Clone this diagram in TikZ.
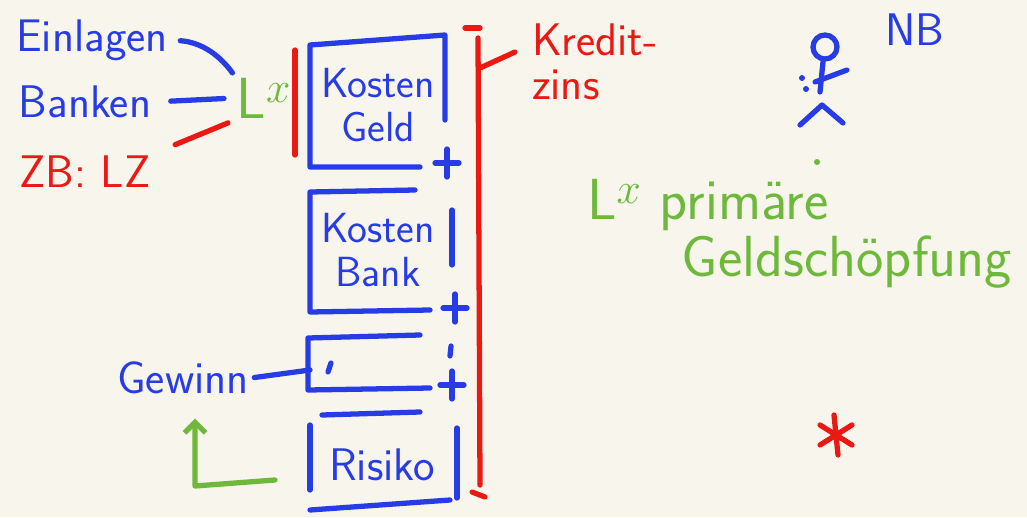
\documentclass[tikz,border=0pt]{standalone}
\usepackage{tikz}
\usetikzlibrary{positioning,arrows.meta}

\definecolor{penblue}{RGB}{40,60,230}
\definecolor{penred}{RGB}{235,25,20}
\definecolor{pengreen}{RGB}{110,185,60}
\definecolor{paper}{RGB}{248,245,236}

\tikzset{
  stroke/.style={line width=3pt, line cap=round, line join=round},
  word/.style={font=\sffamily\fontsize{26}{25}\selectfont, inner sep=1pt},
  boxword/.style={font=\sffamily\fontsize{24}{25}\selectfont, inner sep=1pt},
  bigword/.style={font=\sffamily\fontsize{33}{34}\selectfont, inner sep=1pt},
}

\begin{document}
\begin{tikzpicture}[x=0.02cm,y=-0.02cm]
\fill[paper] (0,0) rectangle (1027,517);
\useasboundingbox (0,0) rectangle (1027,517);

% sources of money
\node[word, penblue] (einlagen) at (92,40) {Einlagen};
\node[word, penblue] (banken) at (85,102) {Banken};
\node[word, penred] (zb) at (85,172) {ZB: LZ};
\node[bigword, pengreen] (lx) at (264,98) {L$^x$};
\draw[stroke, penblue, shorten <=6pt, shorten >=2pt] (einlagen.east) to[bend left=25] (lx.north west);
\draw[stroke, penblue, shorten <=10pt, shorten >=6pt] (banken.east) -- (lx.west);
\draw[stroke, penred, shorten <=14pt, shorten >=4pt] (zb.north east) -- (lx.south west);
\draw[stroke, penred] (295,50) -- (295,155);

% boxes
\draw[stroke, penblue] (420,167) -- (310,167) -- (310,45) -- (445,35) -- (445,120);
\node[boxword, penblue, align=center] (kgeld) at (378,105) {Kosten\\Geld};
\draw[stroke, penblue] (415,190) -- (310,192) -- (310,312) -- (430,310);
\draw[stroke, penblue] (452,210) -- (452,265);
\node[boxword, penblue, align=center] (kbank) at (378,250) {Kosten\\Bank};
\draw[stroke, penblue] (420,335) -- (308,338) -- (308,390) -- (430,388);
\draw[stroke, penblue] (331,363) -- (328,372);
\draw[stroke, penblue] (420,412) -- (322,415);
\draw[stroke, penblue] (310,425) -- (310,490);
\draw[stroke, penblue] (457,428) -- (457,498);
\draw[stroke, penblue] (310,510) -- (450,500);
\node[word, penblue] (risiko) at (382,465) {Risiko};

% signs
\foreach \sx/\sy in {447/163, 455/308, 452/385}
  \draw[stroke, penblue] (\sx-12,\sy) -- (\sx+12,\sy) (\sx,\sy-14) -- (\sx,\sy+14);
\draw[stroke, penblue] (451,346) -- (450,356);

% profit
\node[word, penblue] (gewinn) at (183,378) {Gewinn};
\coordinate (g3) at (310,370);
\draw[stroke, penblue, shorten <=2pt] (gewinn.east) -- (g3);
\coordinate (rk) at (275,480);
\draw[stroke, pengreen, shorten >=6pt, -{Straight Barb[length=6pt,width=12pt]}] (rk) -- (195,486) -- (195,408);

% interest
\draw[stroke, penred] (465,28) -- (480,28);
\draw[stroke, penred] (478,38) -- (480,485);
\draw[stroke, penred] (472,492) -- (485,497);
\draw[stroke, penred] (480,68) -- (515,52);
\node[word, penred, align=left, anchor=west] (kredit) at (530,62) {Kredit-\\zins};

% NB
\draw[stroke, penblue] (825,47) circle[radius=12];
\draw[stroke, penblue] (823,62) -- (820,92);
\draw[stroke, penblue] (815,82) -- (847,70);
\fill[penblue] (802,78) circle[radius=3] (806,89) circle[radius=3];
\draw[stroke, penblue] (800,125) -- (822,105) -- (843,123);
\node[word, penblue] (nb) at (915,30) {NB};

% primary money
\fill[pengreen] (817,162) circle[radius=3];
\node[bigword, pengreen, anchor=west] (prim) at (585,205) {L$^x$ primäre};
\node[bigword, pengreen] (geld) at (847,262) {Geldschöpfung};

% star
\draw[stroke, penred] (834,415) -- (838,455) (820,425) -- (852,445) (820,445) -- (852,425);
\end{tikzpicture}
\end{document}
